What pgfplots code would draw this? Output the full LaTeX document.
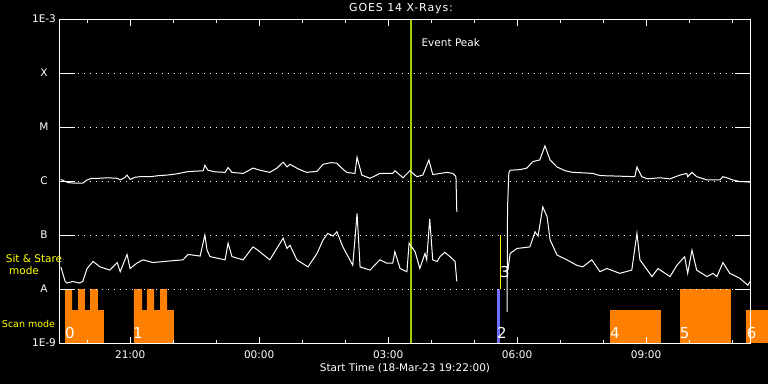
\documentclass[border=0pt]{standalone}
\usepackage{pgfplots}
\pgfplotsset{compat=1.18}
\usepackage{fontspec}
\setmainfont{DejaVu Sans}
\definecolor{scanorange}{RGB}{255,128,0}
\definecolor{peakgreen}{RGB}{160,205,0}
\definecolor{ssblue}{RGB}{110,110,255}
\definecolor{ssyellow}{RGB}{255,255,0}
\begin{document}
\begin{tikzpicture}
\fill[black] (-60pt,-41pt) rectangle (708pt,343pt);
\useasboundingbox (-60pt,-41pt) rectangle (708pt,343pt);
\begin{axis}[
  at={(0pt,0pt)}, anchor=south west,
  scale only axis, width=690pt, height=324pt,
  xmin=0, xmax=16.05, ymin=-9, ymax=-3,
  clip=false, axis on top,
  axis line style={white, line width=1pt},
  xtick={1.633,4.633,7.633,10.633,13.633},
  xticklabels={21:00,00:00,03:00,06:00,09:00},
  minor xtick={0.633,2.633,3.633,5.633,6.633,8.633,9.633,11.633,12.633,14.633,15.633},
  major tick length=6.5pt, minor tick length=3.5pt,
  tick style={white, line width=1pt},
  ytick={-9,-8,-7,-6,-5,-4,-3},
  yticklabels={1E-9,A,B,C,M,X,1E-3},
  ytick style={draw=none},
  ymajorgrids,
  grid style={white, line width=1pt, dash pattern=on 1pt off 5pt},
  tick label style={white, font=\fontsize{10.5}{12}\selectfont},
  yticklabel style={anchor=center, xshift=-16pt},
  xticklabel style={anchor=center, yshift=-12pt},
]
% scan mode blocks (orange)
\addplot[fill=scanorange, draw=none] coordinates {(0.12,-9) (0.12,-8) (0.28,-8) (0.28,-8.39) (0.42,-8.39) (0.42,-8) (0.58,-8) (0.58,-8.39) (0.70,-8.39) (0.70,-8) (0.88,-8) (0.88,-8.39) (1.02,-8.39) (1.02,-9)} -- cycle;
\addplot[fill=scanorange, draw=none] coordinates {(1.72,-9) (1.72,-8) (1.91,-8) (1.91,-8.39) (2.02,-8.39) (2.02,-8) (2.19,-8) (2.19,-8.39) (2.33,-8.39) (2.33,-8) (2.49,-8) (2.49,-8.39) (2.65,-8.39) (2.65,-9)} -- cycle;
\addplot[fill=scanorange, draw=none] coordinates {(12.79,-9) (12.79,-8.39) (13.98,-8.39) (13.98,-9)} -- cycle;
\addplot[fill=scanorange, draw=none] coordinates {(14.42,-9) (14.42,-8) (15.60,-8) (15.60,-9)} -- cycle;
\addplot[fill=scanorange, draw=none] coordinates {(15.95,-9) (15.95,-8.39) (16.47,-8.39) (16.47,-9)} -- cycle;
% sit & stare blocks
\addplot[fill=ssblue, draw=none] coordinates {(10.16,-9) (10.16,-8) (10.23,-8) (10.23,-9)} -- cycle;
\addplot[ssyellow, line width=1.3pt] coordinates {(10.24,-8) (10.24,-7)};
% event peak
\addplot[peakgreen, line width=2pt] coordinates {(8.16,-9) (8.16,-3)};
% long channel
\addplot[white, line width=1pt] coordinates {
(0.02,-5.97) (0.10,-6.00) (0.19,-6.03) (0.35,-6.04) (0.53,-6.04) (0.63,-5.98) (0.74,-5.95) (0.90,-5.95) (1.10,-5.94) (1.33,-5.95) (1.40,-5.98) (1.50,-5.94) (1.56,-5.89) (1.63,-5.97) (1.75,-5.93) (1.86,-5.92) (2.10,-5.92) (2.30,-5.90) (2.49,-5.89) (2.70,-5.87) (2.95,-5.83) (3.10,-5.82) (3.33,-5.81) (3.37,-5.71) (3.44,-5.80) (3.60,-5.83) (3.84,-5.84) (3.91,-5.75) (4.00,-5.84) (4.26,-5.86) (4.40,-5.80) (4.49,-5.76) (4.65,-5.80) (4.88,-5.84) (5.05,-5.76) (5.19,-5.65) (5.28,-5.74) (5.35,-5.69) (5.55,-5.78) (5.74,-5.84) (5.98,-5.82) (6.12,-5.69) (6.30,-5.66) (6.44,-5.67) (6.55,-5.76) (6.67,-5.84) (6.86,-5.86) (6.91,-5.56) (7.02,-5.89) (7.21,-5.95) (7.44,-5.86) (7.74,-5.86) (7.79,-5.81) (7.98,-5.94) (8.14,-5.81) (8.30,-5.92) (8.44,-5.89) (8.58,-5.61) (8.67,-5.88) (8.84,-5.86) (9.00,-5.84) (9.14,-5.86) (9.21,-5.92) (9.23,-6.57)};
\addplot[white, line width=1pt] coordinates {
(10.40,-8.43) (10.41,-6.50) (10.44,-5.85) (10.47,-5.80) (10.70,-5.79) (10.86,-5.76) (11.00,-5.64) (11.16,-5.61) (11.28,-5.35) (11.40,-5.61) (11.56,-5.74) (11.75,-5.81) (11.93,-5.84) (12.20,-5.85) (12.40,-5.86) (12.56,-5.90) (13.00,-5.91) (13.37,-5.92) (13.42,-5.74) (13.53,-5.92) (13.67,-5.96) (13.95,-5.94) (14.19,-5.96) (14.42,-5.89) (14.58,-5.86) (14.60,-5.92) (14.70,-5.84) (14.81,-5.92) (15.05,-5.98) (15.35,-5.98) (15.42,-5.92) (15.51,-5.94) (15.65,-5.98) (15.81,-6.01) (16.05,-6.02)};
% short channel
\addplot[white, line width=1pt] coordinates {
(0.02,-7.59) (0.12,-7.86) (0.16,-7.89) (0.30,-7.86) (0.45,-7.89) (0.53,-7.86) (0.63,-7.62) (0.77,-7.49) (0.93,-7.59) (1.16,-7.65) (1.33,-7.51) (1.40,-7.68) (1.56,-7.36) (1.63,-7.62) (1.79,-7.52) (1.93,-7.46) (2.16,-7.51) (2.56,-7.48) (2.86,-7.46) (2.98,-7.36) (3.26,-7.39) (3.37,-7.00) (3.42,-7.28) (3.49,-7.40) (3.84,-7.46) (3.91,-7.15) (4.00,-7.40) (4.26,-7.46) (4.49,-7.22) (4.60,-7.28) (4.88,-7.46) (5.19,-7.06) (5.28,-7.25) (5.35,-7.19) (5.51,-7.46) (5.77,-7.59) (5.98,-7.34) (6.12,-7.09) (6.23,-6.97) (6.35,-7.02) (6.44,-6.94) (6.58,-7.22) (6.81,-7.56) (6.91,-6.60) (6.98,-7.59) (7.21,-7.65) (7.44,-7.46) (7.60,-7.52) (7.74,-7.52) (7.79,-7.31) (7.91,-7.62) (8.07,-7.68) (8.12,-7.15) (8.26,-7.31) (8.37,-7.62) (8.49,-7.34) (8.53,-7.46) (8.60,-6.70) (8.67,-7.46) (8.77,-7.49) (8.84,-7.40) (8.95,-7.32) (9.07,-7.40) (9.19,-7.49) (9.23,-7.86)};
\addplot[white, line width=1pt] coordinates {
(10.42,-7.65) (10.47,-7.34) (10.63,-7.25) (10.93,-7.22) (11.05,-6.94) (11.12,-7.02) (11.23,-6.48) (11.33,-6.66) (11.40,-7.09) (11.56,-7.37) (11.79,-7.46) (12.02,-7.56) (12.16,-7.59) (12.37,-7.46) (12.56,-7.68) (12.72,-7.62) (13.02,-7.71) (13.30,-7.65) (13.42,-6.97) (13.49,-7.46) (13.77,-7.77) (13.91,-7.62) (14.19,-7.77) (14.35,-7.56) (14.53,-7.40) (14.60,-7.71) (14.70,-7.28) (14.81,-7.65) (15.05,-7.77) (15.19,-7.71) (15.28,-7.77) (15.42,-7.51) (15.58,-7.71) (15.81,-7.80) (16.00,-7.93) (16.05,-7.86)};
% solid tick segments
\pgfplotsinvokeforeach{-8,-7,-6,-5,-4}{
  \draw[white, line width=1pt] (axis cs:0,#1) -- ++(15pt,0pt);
  \draw[white, line width=1pt] (axis cs:16.05,#1) -- ++(-15pt,0pt);
}
% block numbers
\node[white, font=\fontsize{15}{15}\selectfont] at (axis cs:0.23,-8.81) {0};
\node[white, font=\fontsize{15}{15}\selectfont] at (axis cs:1.81,-8.81) {1};
\node[white, font=\fontsize{15}{15}\selectfont] at (axis cs:10.28,-8.81) {2};
\node[white, font=\fontsize{15}{15}\selectfont] at (axis cs:10.35,-7.69) {3};
\node[white, font=\fontsize{15}{15}\selectfont] at (axis cs:12.91,-8.81) {4};
\node[white, font=\fontsize{15}{15}\selectfont] at (axis cs:14.53,-8.81) {5};
\node[white, font=\fontsize{15}{15}\selectfont] at (axis cs:16.09,-8.81) {6};
\node[white, font=\fontsize{10.5}{12}\selectfont] at (axis cs:9.09,-3.44) {Event Peak};
\end{axis}
\node[white, font=\fontsize{11}{13}\selectfont\addfontfeatures{LetterSpace=8}] at (341pt,334pt) {GOES 14 X-Rays:};
\node[white, font=\fontsize{10.5}{12}\selectfont] at (345pt,-25pt) {Start Time (18-Mar-23 19:22:00)};
\node[ssyellow, font=\fontsize{10.5}{12}\selectfont] at (-26pt,84pt) {Sit \& Stare};
\node[ssyellow, font=\fontsize{10.5}{12}\selectfont] at (-36pt,72pt) {mode};
\node[ssyellow, font=\fontsize{9.5}{12}\selectfont] at (-31.5pt,19pt) {Scan mode};
\end{tikzpicture}
\end{document}
